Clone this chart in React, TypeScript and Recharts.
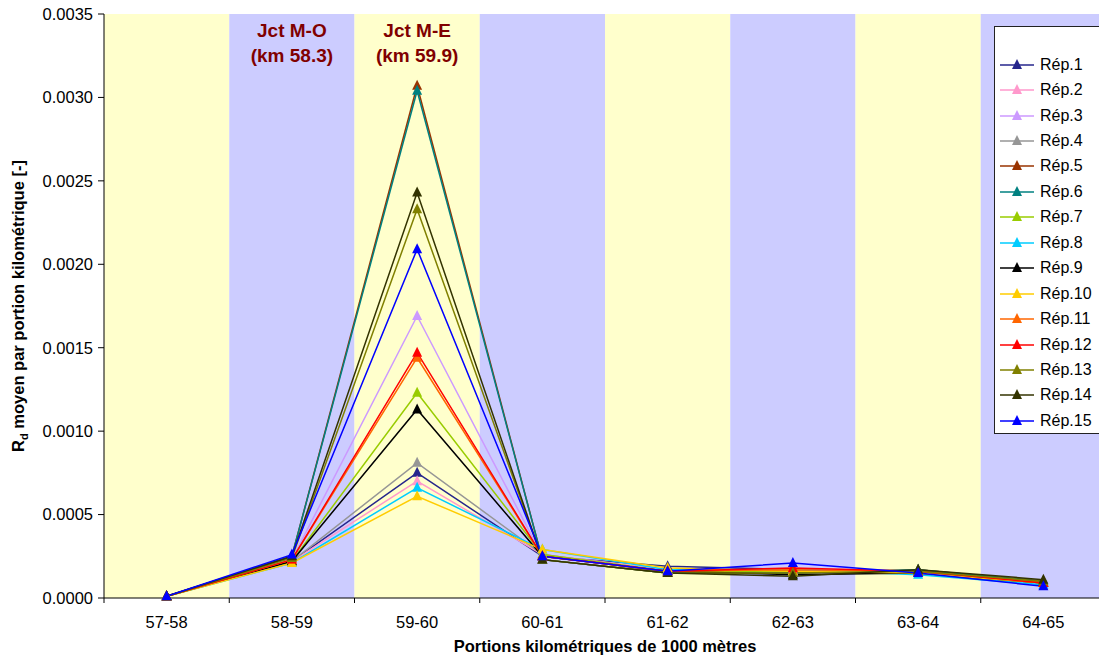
import React from 'react';
import { ComposedChart, Line, XAxis, YAxis, ReferenceArea, Legend } from 'recharts';

const categories = ['57-58', '58-59', '59-60', '60-61', '61-62', '62-63', '63-64', '64-65'];
const yTicks = [0, 0.0005, 0.001, 0.0015, 0.002, 0.0025, 0.003, 0.0035];

const rep1 = [0.00001, 0.00022, 0.00075, 0.00025, 0.00019, 0.00017, 0.00015, 0.00009];
const rep2 = [0.00001, 0.00022, 0.00070, 0.00026, 0.00017, 0.00016, 0.00015, 0.00009];
const rep3 = [0.00001, 0.00023, 0.00169, 0.00025, 0.00016, 0.00016, 0.00016, 0.00009];
const rep4 = [0.00001, 0.00022, 0.00081, 0.00026, 0.00016, 0.00015, 0.00015, 0.00009];
const rep5 = [0.00001, 0.00025, 0.00307, 0.00023, 0.00015, 0.00015, 0.00017, 0.00010];
const rep6 = [0.00001, 0.00025, 0.00304, 0.00023, 0.00015, 0.00015, 0.00017, 0.00010];
const rep7 = [0.00001, 0.00022, 0.00123, 0.00026, 0.00016, 0.00016, 0.00015, 0.00009];
const rep8 = [0.00001, 0.00021, 0.00066, 0.00029, 0.00017, 0.00017, 0.00014, 0.00008];
const rep9 = [0.00001, 0.00022, 0.00113, 0.00025, 0.00016, 0.00014, 0.00015, 0.00009];
const rep10 = [0.00001, 0.00021, 0.00061, 0.00029, 0.00018, 0.00016, 0.00015, 0.00009];
const rep11 = [0.00001, 0.00023, 0.00144, 0.00025, 0.00016, 0.00017, 0.00016, 0.00009];
const rep12 = [0.00001, 0.00023, 0.00147, 0.00025, 0.00016, 0.00018, 0.00016, 0.00009];
const rep13 = [0.00001, 0.00024, 0.00233, 0.00023, 0.00015, 0.00015, 0.00016, 0.00010];
const rep14 = [0.00001, 0.00025, 0.00243, 0.00023, 0.00015, 0.00013, 0.00017, 0.00011];
const rep15 = [0.00001, 0.00026, 0.00209, 0.00025, 0.00016, 0.00021, 0.00015, 0.00007];

const seriesNames = ['Rép.1', 'Rép.2', 'Rép.3', 'Rép.4', 'Rép.5', 'Rép.6', 'Rép.7', 'Rép.8', 'Rép.9', 'Rép.10', 'Rép.11', 'Rép.12', 'Rép.13', 'Rép.14', 'Rép.15'];
const seriesValues = [rep1, rep2, rep3, rep4, rep5, rep6, rep7, rep8, rep9, rep10, rep11, rep12, rep13, rep14, rep15];
const seriesColors = ['#26268c', '#ff99cc', '#cc99ff', '#969696', '#993300', '#008080', '#99cc00', '#00ccff', '#000000', '#ffcc00', '#ff6600', '#ff0000', '#808000', '#333300', '#0000ff'];

const bandColors = ['#ffffcc', '#ccccff'];
const annotations: Record<string, [string, string]> = {
  '58-59': ['Jct M-O', '(km 58.3)'],
  '59-60': ['Jct M-E', '(km 59.9)'],
};

const data = categories.map((c, i) => {
  const row: Record<string, any> = { cat: c };
  seriesNames.forEach((n, k) => { row[n] = seriesValues[k][i]; });
  return row;
});

const FONT = 'Liberation Sans, Arial, sans-serif';
const BAND_W = 1002 / 8;

const Tri = (props: any) => {
  const { cx, cy, fill } = props;
  if (cx == null || cy == null) return null;
  return <polygon points={`${cx},${cy - 6} ${cx - 5},${cy + 4} ${cx + 5},${cy + 4}`} fill={fill} />;
};

const XTick = (props: any) => {
  const { x, y, payload } = props;
  const axisY = y - 18;
  return (
    <g>
      <line x1={x - BAND_W / 2} y1={axisY} x2={x - BAND_W / 2} y2={axisY + 5} stroke="#000" />
      <text x={x} y={y} dy="0.71em" textAnchor="middle" fontSize={16.5} fontFamily={FONT} fill="#000">{payload.value}</text>
    </g>
  );
};

const AnnLabel = (lines: [string, string]) => (props: any) => {
  const vb = props.viewBox || {};
  const cx = vb.x + vb.width / 2;
  return (
    <g>
      <text x={cx} y={vb.y + 23} textAnchor="middle" fontSize={19} fontWeight="bold" fontFamily={FONT} fill="#800000">{lines[0]}</text>
      <text x={cx} y={vb.y + 48} textAnchor="middle" fontSize={19} fontWeight="bold" fontFamily={FONT} fill="#800000">{lines[1]}</text>
    </g>
  );
};

const YLabel = () => {
  const cx = 18;
  const cy = 306;
  return (
    <text transform={`translate(${cx},${cy}) rotate(-90)`} textAnchor="middle" fontSize={16.5} fontWeight="bold" fontFamily={FONT} fill="#000" dy="0.35em">
      R<tspan fontSize={11} dy="4">d</tspan><tspan dy="-4"> moyen par portion kilométrique [-]</tspan>
    </text>
  );
};

const LegendContent = () => (
  <div style={{ width: 130, height: 408, background: '#fff', border: '1px solid #222', boxSizing: 'border-box', paddingTop: 25, fontFamily: FONT }}>
    {seriesNames.map((n, i) => (
      <div key={n} style={{ height: 25.45, display: 'flex', alignItems: 'center' }}>
        <svg width={40} height={14} style={{ marginLeft: 5, flex: 'none' }}>
          <line x1={0} y1={7} x2={34} y2={7} stroke={seriesColors[i]} strokeWidth={1.5} />
          <polygon points={`17,1 12,11 22,11`} fill={seriesColors[i]} />
        </svg>
        <span style={{ fontSize: 16, color: '#000', lineHeight: '16px' }}>{n}</span>
      </div>
    ))}
  </div>
);

export default function App() {
  return (
    <div style={{ position: 'absolute', left: 0, top: 0, width: 1099, height: 661, overflow: 'hidden', background: '#fff' }}>
      <ComposedChart width={1110} height={661} data={data} margin={{ top: 14, right: 4, left: 0, bottom: 33 }}>
        {categories.map((c, i) => (
          <ReferenceArea
            key={c}
            x1={c}
            x2={c}
            y1={0}
            y2={0.0035}
            fill={bandColors[i % 2]}
            fillOpacity={1}
            stroke="none"
            ifOverflow="visible"
            label={annotations[c] ? AnnLabel(annotations[c]) : undefined}
          />
        ))}
        <XAxis
          dataKey="cat"
          scale="band"
          tick={<XTick />}
          tickLine={false}
          tickSize={5}
          tickMargin={13}
          axisLine={{ stroke: '#000' }}
          height={30}
          interval={0}
          label={{ value: 'Portions kilométriques de 1000 mètres', position: 'insideBottom', offset: -24, fontSize: 16.5, fontWeight: 'bold', fontFamily: FONT, fill: '#000' }}
        />
        <YAxis
          domain={[0, 0.0035]}
          ticks={yTicks}
          tickFormatter={(v: number) => v.toFixed(4)}
          width={104}
          tickSize={6}
          tickMargin={5}
          tick={{ fontSize: 16.5, fontFamily: FONT, fill: '#000' }}
          axisLine={{ stroke: '#000' }}
          tickLine={{ stroke: '#000' }}
          label={<YLabel />}
        />
        <Legend
          layout="vertical"
          verticalAlign="middle"
          align="center"
          content={<LegendContent />}
          wrapperStyle={{ position: 'absolute', left: 994, top: 26, width: 130 }}
        />
        {seriesNames.map((n, i) => (
          <Line
            key={n}
            dataKey={n}
            name={n}
            stroke={seriesColors[i]}
            strokeWidth={1.5}
            dot={<Tri fill={seriesColors[i]} />}
            activeDot={false}
            isAnimationActive={false}
          />
        ))}
      </ComposedChart>
    </div>
  );
}
